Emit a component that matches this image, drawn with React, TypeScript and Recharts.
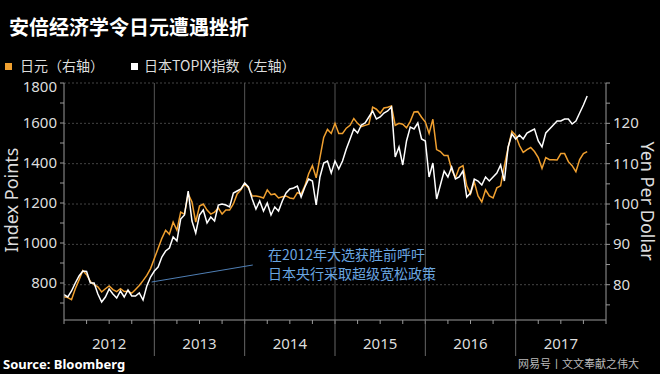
import { LineChart, Line, XAxis, YAxis, ReferenceLine } from "recharts";

// semi-monthly samples starting Jan 2012
const startYear = 2012;
const stepsPerYear = 24;

const topix = [
  // 2012
  742, 730, 760, 800, 835, 860, 858, 800, 800, 745, 705, 730, 770, 745, 725, 760, 730, 765, 735, 735, 750, 715, 785, 830,
  // 2013
  860, 880, 930, 960, 975, 1030, 1010, 1120, 1140, 1260, 1110, 1050, 1140, 1165, 1100, 1130, 1110, 1190, 1195, 1190, 1180, 1250, 1260, 1270,
  // 2014
  1300, 1280, 1220, 1170, 1210, 1160, 1200, 1140, 1180, 1160, 1210, 1250, 1270, 1275, 1285, 1230, 1280, 1320, 1310, 1190, 1330, 1400, 1410, 1350,
  // 2015
  1410, 1370, 1410, 1470, 1520, 1570, 1550, 1590, 1600, 1630, 1660, 1620, 1630, 1650, 1660, 1680, 1430, 1480, 1390, 1510, 1580, 1570, 1600, 1520,
  // 2016
  1510, 1330, 1400, 1220, 1290, 1360, 1330, 1380, 1320, 1330, 1360, 1230, 1250, 1320, 1310, 1290, 1330, 1310, 1330, 1350, 1390, 1310, 1480, 1545,
  // 2017
  1520, 1540, 1520, 1550, 1560, 1570, 1510, 1480, 1550, 1570, 1590, 1610, 1610, 1620, 1620, 1595, 1610, 1650, 1690, 1735,
];

const yen = [
  // 2012
  77.0, 76.8, 76.3, 79.0, 81.2, 83.5, 82.5, 80.8, 80.0, 79.5, 78.2, 79.0, 79.7, 78.8, 78.3, 79.0, 78.3, 78.4, 77.9, 78.8, 79.8, 81.0, 82.3, 84.0,
  // 2013
  86.5, 89.0, 91.5, 93.5, 92.5, 95.5, 93.5, 98.0, 97.5, 102.5, 100.5, 95.5, 99.5, 100.0, 98.5, 97.5, 98.0, 99.0, 97.5, 98.5, 98.5, 100.0, 102.5, 103.5,
  // 2014
  105.0, 104.0, 102.0, 102.0, 101.8, 101.5, 103.5, 102.3, 102.5, 101.5, 101.8, 102.0, 101.5, 101.3, 102.8, 102.5, 104.5, 107.5, 109.5, 106.5, 111.5, 116.5, 118.5, 117.5,
  // 2015
  120.0, 117.5, 117.5, 118.8, 119.5, 121.2, 120.0, 119.2, 119.5, 119.8, 124.0, 123.5, 122.5, 123.8, 124.0, 124.3, 119.5, 120.0, 119.8, 118.9, 120.5, 122.8, 122.9, 121.5,
  // 2016
  120.3, 117.5, 121.0, 113.5, 113.0, 112.0, 112.0, 108.5, 106.5, 109.0, 109.5, 104.5, 102.5, 105.5, 102.0, 100.5, 103.5, 102.0, 101.5, 104.0, 104.5, 109.5, 114.0, 118.0,
  // 2017
  117.0, 114.5, 112.8, 113.5, 114.0, 113.0, 111.5, 108.8, 111.5, 111.0, 111.0, 110.9, 112.5, 112.5, 110.5, 109.5, 108.0, 111.0, 112.5, 113.0,
];

const years = [2012, 2013, 2014, 2015, 2016, 2017];
const leftTicks = [700, 800, 900, 1000, 1100, 1200, 1300, 1400, 1500, 1600, 1700, 1800];
const rightTicks = [75, 80, 85, 90, 95, 100, 105, 110, 115, 120, 125, 130];
const rightGrid = [80, 90, 100, 110, 120, 130];
const quarterTicks: number[] = [];
for (let y = 2012; y <= 2018; y += 0.25) quarterTicks.push(y);

const data = topix.map((t, i) => ({
  t: startYear + i / stepsPerYear,
  topix: t,
  yen: yen[i],
}));

const ORANGE = "#f0a030";
const TXT = "#dddddd";
const FONT = "'Noto Sans', 'Noto Sans CJK SC', sans-serif";
const CJK = "'Noto Sans CJK SC', sans-serif";

const LeftTick = (props: any) => {
  const { x, y, payload } = props;
  if (payload.value % 200 !== 0) return <g />;
  // top label sits a little lower in the original
  const dy = payload.value === 1800 ? 9 : 5;
  return (
    <text x={x} y={y} dy={dy} textAnchor="end" fill={TXT} fontSize={15} fontFamily={FONT}>
      {payload.value}
    </text>
  );
};

const RightTick = (props: any) => {
  const { x, y, payload } = props;
  if (payload.value % 10 !== 0 || payload.value >= 130) return <g />;
  return (
    <text x={x} y={y} dy={5} textAnchor="start" fill={TXT} fontSize={15} fontFamily={FONT}>
      {payload.value}
    </text>
  );
};

const XTick = (props: any) => {
  const { x, y, payload } = props;
  const v = payload.value as number;
  const axisY = y - 6;
  const frac = v - Math.floor(v);
  return (
    <g>
      {frac === 0 && v > 2012 && v < 2018 && (
        <line x1={x} x2={x} y1={axisY} y2={axisY + 36} stroke="#666" />
      )}
      {frac === 0.5 && (
        <text x={x} y={axisY + 29} textAnchor="middle" fill={TXT} fontSize={15} fontFamily={FONT}>
          {Math.floor(v)}
        </text>
      )}
    </g>
  );
};

export default function App() {
  return (
    <div
      style={{
        position: "fixed",
        left: 0,
        top: 0,
        width: 660,
        height: 374,
        background: "#000",
        fontFamily: FONT,
        overflow: "hidden",
      }}
    >
      <div style={{ position: "absolute", left: 9, top: 12, color: "#fff", fontSize: 20, fontWeight: 700, fontFamily: CJK }}>
        安倍经济学令日元遭遇挫折
      </div>
      <div style={{ position: "absolute", left: 5, top: 63, width: 7, height: 7, background: ORANGE }} />
      <div style={{ position: "absolute", left: 20, top: 55, color: TXT, fontSize: 14, lineHeight: "20px", fontFamily: CJK }}>
        日元（右轴）
      </div>
      <div style={{ position: "absolute", left: 131, top: 63, width: 7, height: 7, background: "#fff" }} />
      <div style={{ position: "absolute", left: 144, top: 55, color: TXT, fontSize: 14, lineHeight: "20px", fontFamily: CJK }}>
        日本TOPIX指数（左轴）
      </div>

      <LineChart width={660} height={374} data={data} margin={{ top: 83, right: 4, bottom: 14, left: 14 }}>
        <XAxis
          dataKey="t"
          type="number"
          domain={[2012, 2018]}
          ticks={quarterTicks}
          interval={0}
          tick={XTick}
          tickSize={4}
          tickMargin={2}
          height={40}
          stroke="#999"
          allowDataOverflow
        />
        <YAxis
          yAxisId="left"
          domain={[615, 1800]}
          ticks={leftTicks}
          interval={0}
          tick={LeftTick}
          tickSize={4}
          tickMargin={3}
          width={50}
          stroke="#999"
          allowDataOverflow
        />
        <YAxis
          yAxisId="right"
          orientation="right"
          domain={[71.25, 130]}
          ticks={rightTicks}
          interval={0}
          tick={RightTick}
          tickSize={4}
          tickMargin={3}
          width={50}
          stroke="#999"
          allowDataOverflow
        />
        {rightGrid.map((v) => (
          <ReferenceLine key={"h" + v} yAxisId="right" y={v} stroke="#444" strokeDasharray="2 2" />
        ))}
        {years.slice(1).map((v) => (
          <ReferenceLine key={"v" + v} yAxisId="left" x={v} stroke="#555" />
        ))}
        <Line
          yAxisId="right"
          dataKey="yen"
          stroke={ORANGE}
          strokeWidth={1.5}
          dot={false}
          isAnimationActive={false}
        />
        <Line
          yAxisId="left"
          dataKey="topix"
          stroke="#ffffff"
          strokeWidth={1.5}
          dot={false}
          isAnimationActive={false}
        />
        <ReferenceLine
          yAxisId="left"
          segment={[
            { x: 2012.97, y: 805 },
            { x: 2014.09, y: 890 },
          ]}
          stroke="#4f7fb5"
        />
      </LineChart>

      <div
        style={{
          position: "absolute",
          left: 11,
          top: 200,
          color: TXT,
          fontSize: 18,
          lineHeight: "20px",
          transform: "translate(-50%, -50%) rotate(-90deg)",
          whiteSpace: "nowrap",
        }}
      >
        Index Points
      </div>
      <div
        style={{
          position: "absolute",
          left: 648,
          top: 201,
          color: TXT,
          fontSize: 18,
          lineHeight: "20px",
          transform: "translate(-50%, -50%) rotate(90deg)",
          whiteSpace: "nowrap",
        }}
      >
        Yen Per Dollar
      </div>

      <div style={{ position: "absolute", left: 268, top: 245, color: "#6aa6e0", fontSize: 14, lineHeight: "19px", fontFamily: CJK }}>
        在2012年大选获胜前呼吁
        <br />
        日本央行采取超级宽松政策
      </div>

      <div style={{ position: "absolute", left: 3, top: 355, color: "#fff", fontSize: 13, fontWeight: 700 }}>
        Source: Bloomberg
      </div>
      <div style={{ position: "absolute", left: 518, top: 356, color: "#bbb", fontSize: 11, lineHeight: "14px", fontFamily: CJK, whiteSpace: "nowrap" }}>
        网易号丨文文奉献之伟大
      </div>
    </div>
  );
}
